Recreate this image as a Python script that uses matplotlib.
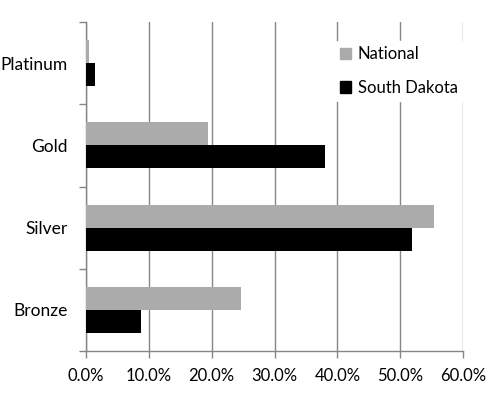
import matplotlib
matplotlib.use("Agg")
import matplotlib.pyplot as plt
import numpy as np
from matplotlib.ticker import PercentFormatter, FixedLocator
from matplotlib.patches import Patch

categories = ["Bronze", "Silver", "Gold", "Platinum"]
national = [24.6, 55.4, 19.4, 0.4]
south_dakota = [8.7, 51.9, 38.1, 1.4]
xticks = [0, 10, 20, 30, 40, 50, 60]

plt.rcParams['font.family'] = ['Lato', 'DejaVu Sans']

fig = plt.figure(figsize=(4.88, 3.98), dpi=100)
ax = fig.add_axes([86/488, 1-351/398, (463-86)/488, (351-22)/398])

y = np.arange(len(categories))
h = 0.28
ax.barh(y + h/2, national, height=h, color='#ABABAB', label='National', zorder=3)
ax.barh(y - h/2, south_dakota, height=h, color='#000000', label='South Dakota', zorder=3)

ax.set_xlim(0, 60)
ax.set_ylim(-0.5, len(categories) - 0.5)
ax.set_xticks(xticks)
ax.xaxis.set_major_formatter(PercentFormatter(decimals=1))
ax.set_yticks(y)
ax.set_yticklabels(categories)
ax.yaxis.set_minor_locator(FixedLocator(np.arange(-0.5, len(categories), 1.0)))
ax.tick_params(axis='y', which='major', length=0, pad=13, labelsize=12.5, colors='black')
ax.tick_params(axis='y', which='minor', length=5, color='#868686', width=1)
ax.tick_params(axis='x', which='major', length=5, color='#868686', width=1, labelsize=12, pad=7)

ax.grid(axis='x', color='#868686', linewidth=1, zorder=0)
for s in ['top', 'right']:
    ax.spines[s].set_visible(False)
for s in ['left', 'bottom']:
    ax.spines[s].set_color('#868686')
    ax.spines[s].set_linewidth(1)

leg = fig.legend(handles=[Patch(color='#ABABAB', label='National'),
                          Patch(color='#000000', label='South Dakota')],
                 loc='upper left', bbox_to_anchor=(327/488, 1-33/398),
                 frameon=True, facecolor='white', edgecolor='white', framealpha=1,
                 fontsize=12, handlelength=0.65, handleheight=0.65,
                 handletextpad=0.4, labelspacing=1.05, borderpad=0.3)

fig.savefig("out.png", dpi=100, facecolor='white')
